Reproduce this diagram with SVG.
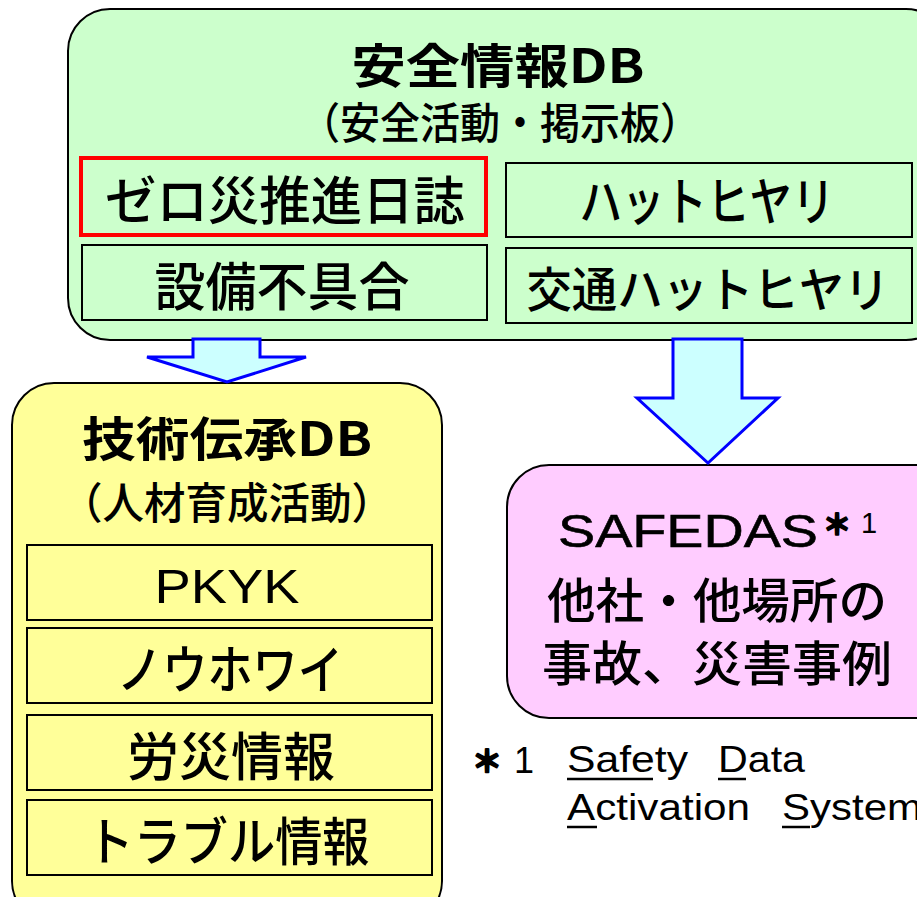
<svg xmlns="http://www.w3.org/2000/svg" width="917" height="897" viewBox="0 0 917 897">
<style>
.t{font-family:"Noto Sans CJK JP","Liberation Sans",sans-serif;fill:#000;text-anchor:middle;font-weight:500}
.b{font-weight:bold}
.l{font-family:"Liberation Sans","Noto Sans CJK JP",sans-serif;fill:#000}
.ast{stroke:#000;stroke-width:2.2;stroke-linejoin:round}
.box{stroke:#000;stroke-width:2}
.sub{stroke:#000;stroke-width:2}
.arrow{fill:#CCFFFF;stroke:#0000FF;stroke-width:3;stroke-linejoin:miter}
</style>
<rect width="917" height="897" fill="#fff"/>
<g id="anzen">
<rect class="box" x="68" y="9" width="880" height="331" rx="42" fill="#CCFFCC"/>
<text class="t b" x="498" y="83" font-size="47" textLength="293" lengthAdjust="spacingAndGlyphs">安全情報DB</text>
<text class="t" x="500" y="139" font-size="43" textLength="400" lengthAdjust="spacingAndGlyphs">（安全活動・掲示板）</text>
<g id="zero">
<rect x="81" y="158" width="405" height="77" fill="#CCFFCC" stroke="#FF0000" stroke-width="4"/>
<text class="t" x="285" y="220" font-size="52" textLength="360" lengthAdjust="spacingAndGlyphs">ゼロ災推進日誌</text>
</g>
<g id="hatto">
<rect class="sub" x="506" y="163" width="406" height="74" fill="#CCFFCC"/>
<text class="t" x="707" y="221" font-size="52" textLength="255" lengthAdjust="spacingAndGlyphs">ハットヒヤリ</text>
</g>
<g id="setsubi">
<rect class="sub" x="82" y="245" width="405" height="75" fill="#CCFFCC"/>
<text class="t" x="282" y="306" font-size="52" textLength="255" lengthAdjust="spacingAndGlyphs">設備不具合</text>
</g>
<g id="koutsu">
<rect class="sub" x="506" y="248" width="406" height="75" fill="#CCFFCC"/>
<text class="t" x="708" y="307" font-size="48" textLength="363" lengthAdjust="spacingAndGlyphs">交通ハットヒヤリ</text>
</g>
</g>
<g id="gijutsu">
<rect class="box" x="12" y="383" width="430" height="540" rx="42" fill="#FFFF99"/>
<text class="t b" x="227" y="456" font-size="47" textLength="290" lengthAdjust="spacingAndGlyphs">技術伝承DB</text>
<text class="t" x="227" y="519" font-size="43" textLength="332" lengthAdjust="spacingAndGlyphs">（人材育成活動）</text>
<g id="pkyk">
<rect class="sub" x="27" y="545" width="405" height="75" fill="#FFFF99"/>
<text class="l" x="227" y="603" font-size="48" text-anchor="middle" textLength="145" lengthAdjust="spacingAndGlyphs">PKYK</text>
</g>
<g id="knowhy">
<rect class="sub" x="27" y="628" width="405" height="75" fill="#FFFF99"/>
<text class="t" x="230" y="689" font-size="52" textLength="226" lengthAdjust="spacingAndGlyphs">ノウホワイ</text>
</g>
<g id="rousai">
<rect class="sub" x="27" y="715" width="405" height="75" fill="#FFFF99"/>
<text class="t" x="231" y="776" font-size="52" textLength="208" lengthAdjust="spacingAndGlyphs">労災情報</text>
</g>
<g id="trouble">
<rect class="sub" x="27" y="800" width="405" height="75" fill="#FFFF99"/>
<text class="t" x="228" y="861" font-size="52" textLength="283" lengthAdjust="spacingAndGlyphs">トラブル情報</text>
</g>
</g>
<g id="safedas">
<rect class="box" x="507" y="465" width="450" height="253" rx="42" fill="#FFCCFF"/>
<text class="l" x="558" y="547" font-size="47" textLength="260" lengthAdjust="spacingAndGlyphs" stroke="#000" stroke-width="0.6">SAFEDAS</text>
<text class="t b ast" x="837" y="535" font-size="28">＊</text>
<text class="l" x="861" y="533" font-size="29">1</text>
<text class="t" x="717" y="618" font-size="48" textLength="340" lengthAdjust="spacingAndGlyphs">他社・他場所の</text>
<text class="t" x="717" y="681" font-size="48" textLength="350" lengthAdjust="spacingAndGlyphs">事故、災害事例</text>
</g>
<g id="connectors">
<polygon class="arrow" points="193,339 260,339 260,357 306,357 227,382 147,357 193,357"/>
<polygon class="arrow" points="673,339 742,339 742,398 778,398 708,463 637,398 673,398"/>
</g>
<g id="footnote">
<text class="t b ast" x="487" y="772" font-size="30">＊</text>
<text class="l" x="514" y="773" font-size="36">1</text>
<text class="l" x="567" y="772" font-size="36" textLength="121" lengthAdjust="spacingAndGlyphs">Safety</text>
<text class="l" x="718" y="772" font-size="36" textLength="87" lengthAdjust="spacingAndGlyphs">Data</text>
<text class="l" x="567" y="820" font-size="36" textLength="183" lengthAdjust="spacingAndGlyphs">Activation</text>
<text class="l" x="782" y="820" font-size="36" textLength="140" lengthAdjust="spacingAndGlyphs">System</text>
<g stroke="#000" stroke-width="2.5">
<line x1="567" y1="779" x2="653" y2="779"/>
<line x1="718" y1="779" x2="746" y2="779"/>
<line x1="567" y1="827" x2="597" y2="827"/>
<line x1="782" y1="827" x2="810" y2="827"/>
</g>
</g>
</svg>
